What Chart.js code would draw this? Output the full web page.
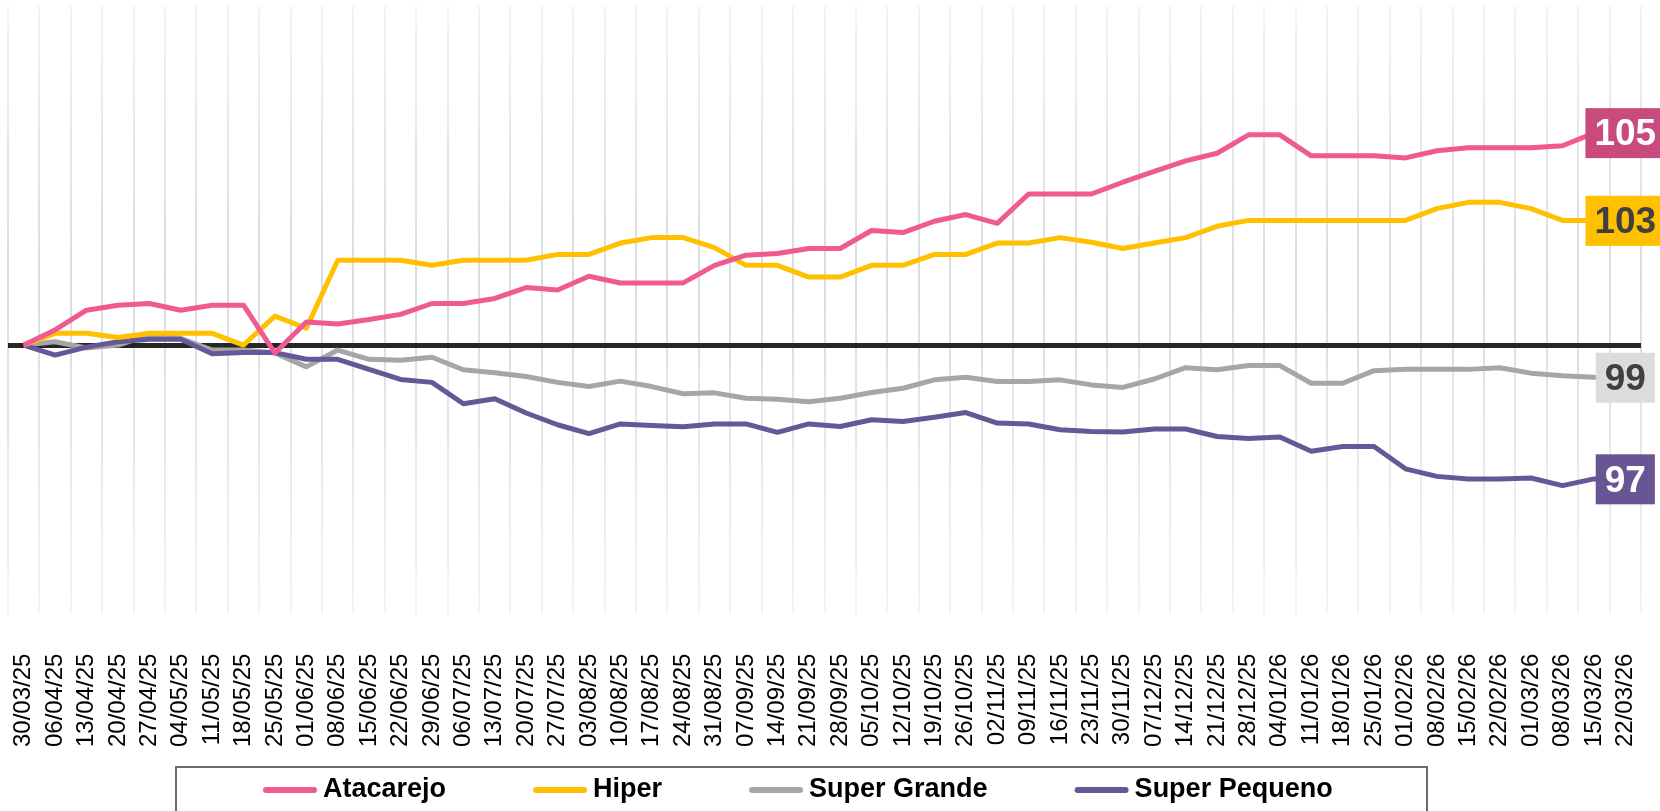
<!DOCTYPE html>
<html>
<head>
<meta charset="utf-8">
<script src="https://cdn.jsdelivr.net/npm/chart.js@4.4.1/dist/chart.umd.min.js"></script>
<style>
  html, body { margin: 0; padding: 0; background: #fff; }
  #wrap { width: 1660px; height: 811px; position: relative; }
</style>
</head>
<body>
<div id="wrap"><canvas id="chart"></canvas></div>
<script>
// weekly dates
const dates = [
  "30/03/25","06/04/25","13/04/25","20/04/25","27/04/25","04/05/25","11/05/25","18/05/25","25/05/25",
  "01/06/25","08/06/25","15/06/25","22/06/25","29/06/25","06/07/25","13/07/25","20/07/25","27/07/25",
  "03/08/25","10/08/25","17/08/25","24/08/25","31/08/25","07/09/25","14/09/25","21/09/25","28/09/25",
  "05/10/25","12/10/25","19/10/25","26/10/25","02/11/25","09/11/25","16/11/25","23/11/25","30/11/25",
  "07/12/25","14/12/25","21/12/25","28/12/25","04/01/26","11/01/26","18/01/26","25/01/26","01/02/26",
  "08/02/26","15/02/26","22/02/26","01/03/26","08/03/26","15/03/26","22/03/26"
];

// index values (base 100)
const atacarejo = [
  100, 100.36, 100.83, 100.95, 100.99, 100.83, 100.95, 100.95, 99.81, 100.55,
  100.5, 100.61, 100.73, 100.99, 100.99, 101.11, 101.37, 101.31, 101.64, 101.48,
  101.48, 101.48, 101.9, 102.14, 102.18, 102.3, 102.3, 102.73, 102.68, 102.95,
  103.11, 102.9, 103.6, 103.6, 103.6, 103.88, 104.14, 104.39, 104.57, 105.01,
  105.01, 104.51, 104.51, 104.51, 104.46, 104.63, 104.7, 104.7, 104.7, 104.75,
  105.05, 105.05
];
const hiper = [
  100, 100.28, 100.28, 100.18, 100.28, 100.28, 100.28, 100, 100.69, 100.4,
  102.02, 102.02, 102.02, 101.9, 102.02, 102.02, 102.02, 102.16, 102.16, 102.43,
  102.56, 102.56, 102.32, 101.9, 101.9, 101.62, 101.62, 101.9, 101.9, 102.16,
  102.16, 102.43, 102.43, 102.56, 102.45, 102.3, 102.43, 102.56, 102.83, 102.97,
  102.97, 102.97, 102.97, 102.97, 102.97, 103.25, 103.4, 103.4, 103.25, 102.97,
  102.97, 102.96
];
const superGrande = [
  100, 100.08, 99.93, 100, 100.24, 100.16, 99.88, 99.88, 99.81, 99.48,
  99.88, 99.66, 99.64, 99.71, 99.41, 99.34, 99.25, 99.11, 99.01, 99.14,
  99.01, 98.84, 98.86, 98.73, 98.71, 98.65, 98.73, 98.87, 98.97, 99.17,
  99.23, 99.13, 99.13, 99.17, 99.05, 98.99, 99.19, 99.46, 99.41, 99.51,
  99.51, 99.09, 99.09, 99.39, 99.42, 99.42, 99.42, 99.46, 99.33, 99.27,
  99.23, 99.22
];
const superPequeno = [
  100, 99.76, 99.95, 100.08, 100.14, 100.14, 99.79, 99.82, 99.82, 99.66,
  99.66, 99.42, 99.18, 99.11, 98.6, 98.72, 98.38, 98.1, 97.89, 98.12,
  98.08, 98.05, 98.12, 98.12, 97.92, 98.12, 98.06, 98.22, 98.18, 98.28,
  98.39, 98.14, 98.12, 97.98, 97.94, 97.93, 98.0, 98.0, 97.82, 97.77,
  97.81, 97.47, 97.58, 97.58, 97.05, 96.87, 96.81, 96.81, 96.83, 96.65,
  96.81, 96.8
];

const seriesNames = ["Atacarejo", "Hiper", "Super Grande", "Super Pequeno"];
const lineColors = ["#F05A92", "#FFC000", "#A6A6A6", "#665796"];
const boxColors = ["#C94A7C", "#FFC000", "#DCDCDC", "#675594"];
const boxTextColors = ["#FFFFFF", "#404040", "#404040", "#FFFFFF"];
const baseValue = 100;

const FONT = '"Liberation Sans", Arial, sans-serif';

// last-value tag at the end of each line
const endLabels = {
  id: 'endLabels',
  afterDatasetsDraw(chart) {
    const ctx = chart.ctx;
    ctx.save();
    ctx.font = 'bold 37px ' + FONT;
    ctx.textAlign = 'center';
    ctx.textBaseline = 'middle';
    chart.data.datasets.forEach((ds, i) => {
      const meta = chart.getDatasetMeta(i);
      const pt = meta.data[meta.data.length - 1];
      const txt = String(Math.round(ds.data[ds.data.length - 1]));
      const w = ctx.measureText(txt).width + 18;
      const h = 50;
      ctx.fillStyle = boxColors[i];
      ctx.fillRect(pt.x - w / 2, pt.y - h / 2, w, h);
      ctx.fillStyle = boxTextColors[i];
      ctx.fillText(txt, pt.x, pt.y + 2);
    });
    ctx.restore();
  }
};

// legend in a framed box under the dates
const boxLegend = {
  id: 'boxLegend',
  afterDraw(chart) {
    const ctx = chart.ctx;
    const left = 176, right = 1427, top = 767;
    ctx.save();
    ctx.strokeStyle = '#6B6B6B';
    ctx.lineWidth = 2;
    ctx.strokeRect(left, top, right - left, 60);
    ctx.font = 'bold 27px ' + FONT;
    ctx.textBaseline = 'middle';
    ctx.textAlign = 'left';
    let x = left + 87;
    const y = 790;
    chart.data.datasets.forEach((ds, i) => {
      ctx.strokeStyle = ds.borderColor;
      ctx.lineWidth = 6;
      ctx.lineCap = 'round';
      ctx.beginPath();
      ctx.moveTo(x + 3, y);
      ctx.lineTo(x + 51, y);
      ctx.stroke();
      ctx.fillStyle = '#000';
      ctx.fillText(ds.label, x + 60, y);
      x += 60 + ctx.measureText(ds.label).width + 87;
    });
    ctx.restore();
  }
};

function gridGradient(context) {
  const chart = context.chart;
  const area = chart.chartArea;
  if (!area) return '#e0e4e8';
  const g = chart.ctx.createLinearGradient(0, area.top, 0, area.bottom);
  g.addColorStop(0, '#EEF4F9');
  g.addColorStop(0.45, '#D8DCE0');
  g.addColorStop(1, '#F4F4F4');
  return g;
}

const allSeries = [atacarejo, hiper, superGrande, superPequeno];

new Chart(document.getElementById('chart'), {
  type: 'line',
  data: {
    labels: dates,
    datasets: allSeries.map((vals, i) => ({
      label: seriesNames[i],
      data: vals,
      borderColor: lineColors[i],
      backgroundColor: lineColors[i],
      borderWidth: 5,
      pointRadius: 0,
      tension: 0,
      borderJoinStyle: 'round',
      order: [0, 1, 3, 2][i]
    }))
  },
  options: {
    responsive: true,
    maintainAspectRatio: false,
    animation: false,
    devicePixelRatio: 1,
    layout: { padding: { left: 8, right: 19, top: 6, bottom: 24 } },
    plugins: {
      legend: { display: false },
      tooltip: { enabled: false },
      title: { display: false }
    },
    scales: {
      x: {
        offset: true,
        border: { display: false },
        grid: { offset: true, color: gridGradient, lineWidth: 2, drawTicks: false },
        afterFit: axis => { axis.paddingLeft = 0; axis.paddingRight = 0; },
        ticks: {
          autoSkip: false,
          minRotation: 90,
          maxRotation: 90,
          padding: 40,
          color: '#000',
          font: { family: FONT, size: 24 }
        }
      },
      y: {
        min: 93.6,
        max: 108.08,
        border: { display: false },
        afterFit: axis => { axis.width = 0; },
        afterBuildTicks: axis => { axis.ticks = [{ value: baseValue }]; },
        grid: { color: '#262626', lineWidth: 5, drawTicks: false },
        ticks: { display: false }
      }
    }
  },
  plugins: [endLabels, boxLegend]
});
</script>
</body>
</html>
